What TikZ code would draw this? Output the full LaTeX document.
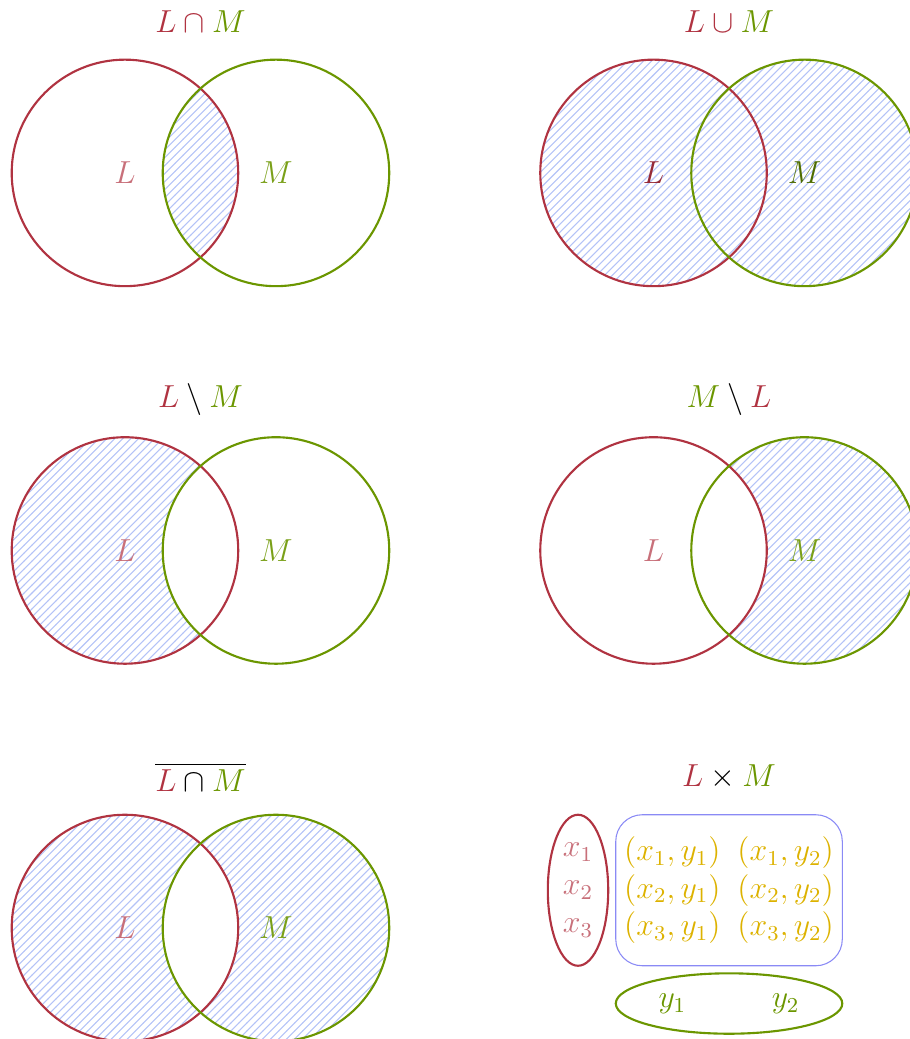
\documentclass[tikz,border=0pt]{standalone}
\usepackage{amsmath,amssymb}
\usepackage{tikz}
\usetikzlibrary{shapes.geometric,patterns,positioning}
\definecolor{setL}{HTML}{B03341}
\definecolor{setM}{HTML}{6B9600}
\definecolor{setPair}{HTML}{DDB200}
\definecolor{setHatch}{HTML}{B4C3F7}
\definecolor{setBox}{HTML}{8A8AF5}
\tikzset{
  setcircL/.style={circle,draw=setL,thick,minimum size=3cm,inner sep=0pt,font=\large,text=setL!70},
  setcircM/.style={circle,draw=setM,thick,minimum size=3cm,inner sep=0pt,font=\large,text=setM!90},
  setstrongL/.style={setcircL,text=setL!85!black},
  setstrongM/.style={setcircM,text=setM!72!black},
  settitle/.style={font=\large},
  sethatch/.style={pattern=north east lines,pattern color=setHatch},
  setpair/.style={font=\large,text=setPair,inner sep=1pt},
}

\begin{document}
\begin{tikzpicture}
  \useasboundingbox (-1.655,-11.47) rectangle (10.385,2.29);

  % centres of the circles, three rows, two columns
  \coordinate (cL1) at (0,0);   \coordinate (cM1) at (2,0);
  \coordinate (cL2) at (7,0);   \coordinate (cM2) at (9,0);
  \coordinate (cL3) at (0,-5);  \coordinate (cM3) at (2,-5);
  \coordinate (cL4) at (7,-5);  \coordinate (cM4) at (9,-5);
  \coordinate (cL5) at (0,-10); \coordinate (cM5) at (2,-10);

  % intersection
  \begin{scope}
    \clip (cL1) circle (1.5cm);
    \fill[sethatch] (cM1) circle (1.5cm);
  \end{scope}
  \node[setcircL] (l1) at (cL1) {$L$};
  \node[setcircM] (m1) at (cM1) {$M$};
  \node[settitle] (t1) at (1,2) {$\color{setL}L\cap\color{setM}M$};

  % union
  \fill[sethatch] (cL2) circle (1.5cm) (cM2) circle (1.5cm);
  \node[setstrongL] (l2) at (cL2) {$L$};
  \node[setstrongM] (m2) at (cM2) {$M$};
  \node[settitle] (t2) at (8,2) {$\color{setL}L\cup\color{setM}M$};

  % L without M
  \begin{scope}
    \clip (cL3) circle (1.5cm);
    \fill[sethatch,even odd rule] (cL3) circle (1.5cm) (cM3) circle (1.5cm);
  \end{scope}
  \node[setcircL] (l3) at (cL3) {$L$};
  \node[setcircM] (m3) at (cM3) {$M$};
  \node[settitle] (t3) at (1,-3) {$\color{setL}L\color{black}\setminus\color{setM}M$};

  % M without L
  \begin{scope}
    \clip (cM4) circle (1.5cm);
    \fill[sethatch,even odd rule] (cL4) circle (1.5cm) (cM4) circle (1.5cm);
  \end{scope}
  \node[setcircL] (l4) at (cL4) {$L$};
  \node[setcircM] (m4) at (cM4) {$M$};
  \node[settitle] (t4) at (8,-3) {$\color{setM}M\color{black}\setminus\color{setL}L$};

  % complement of the intersection
  \fill[sethatch,even odd rule] (cL5) circle (1.5cm) (cM5) circle (1.5cm);
  \node[setcircL] (l5) at (cL5) {$L$};
  \node[setcircM] (m5) at (cM5) {$M$};
  \node[settitle] (t5) at (1,-8) {$\overline{\color{setL}L\color{black}\cap\color{setM}M}$};

  % cartesian product
  \node[settitle] (t6) at (8,-8) {$\color{setL}L\color{black}\times\color{setM}M$};
  \node[ellipse,draw=setL,thick,minimum width=0.8cm,minimum height=2cm,inner sep=0pt] (xs) at (6,-9.5) {};
  \node[draw=setBox,rounded corners=10pt,minimum width=3cm,minimum height=2cm] (pairs) at (8,-9.5) {};
  \node[ellipse,draw=setM,thick,minimum width=3cm,minimum height=0.8cm,inner sep=0pt] (ys) at (8,-11) {};
  \foreach \i in {1,2,3} {
    \node[font=\large,text=setL!70,inner sep=1pt] (x\i) at (6,-8.5-\i*0.5) {$x_\i$};
    \foreach \j/\xx in {1/7.25,2/8.75}
      \node[setpair] (p\i\j) at (\xx,-8.5-\i*0.5) {$(x_\i,y_\j)$};
  }
  \node[font=\large,text=setM,inner sep=1pt] (y1) at (7.25,-11) {$y_1$};
  \node[font=\large,text=setM,inner sep=1pt] (y2) at (8.75,-11) {$y_2$};
\end{tikzpicture}
\end{document}
